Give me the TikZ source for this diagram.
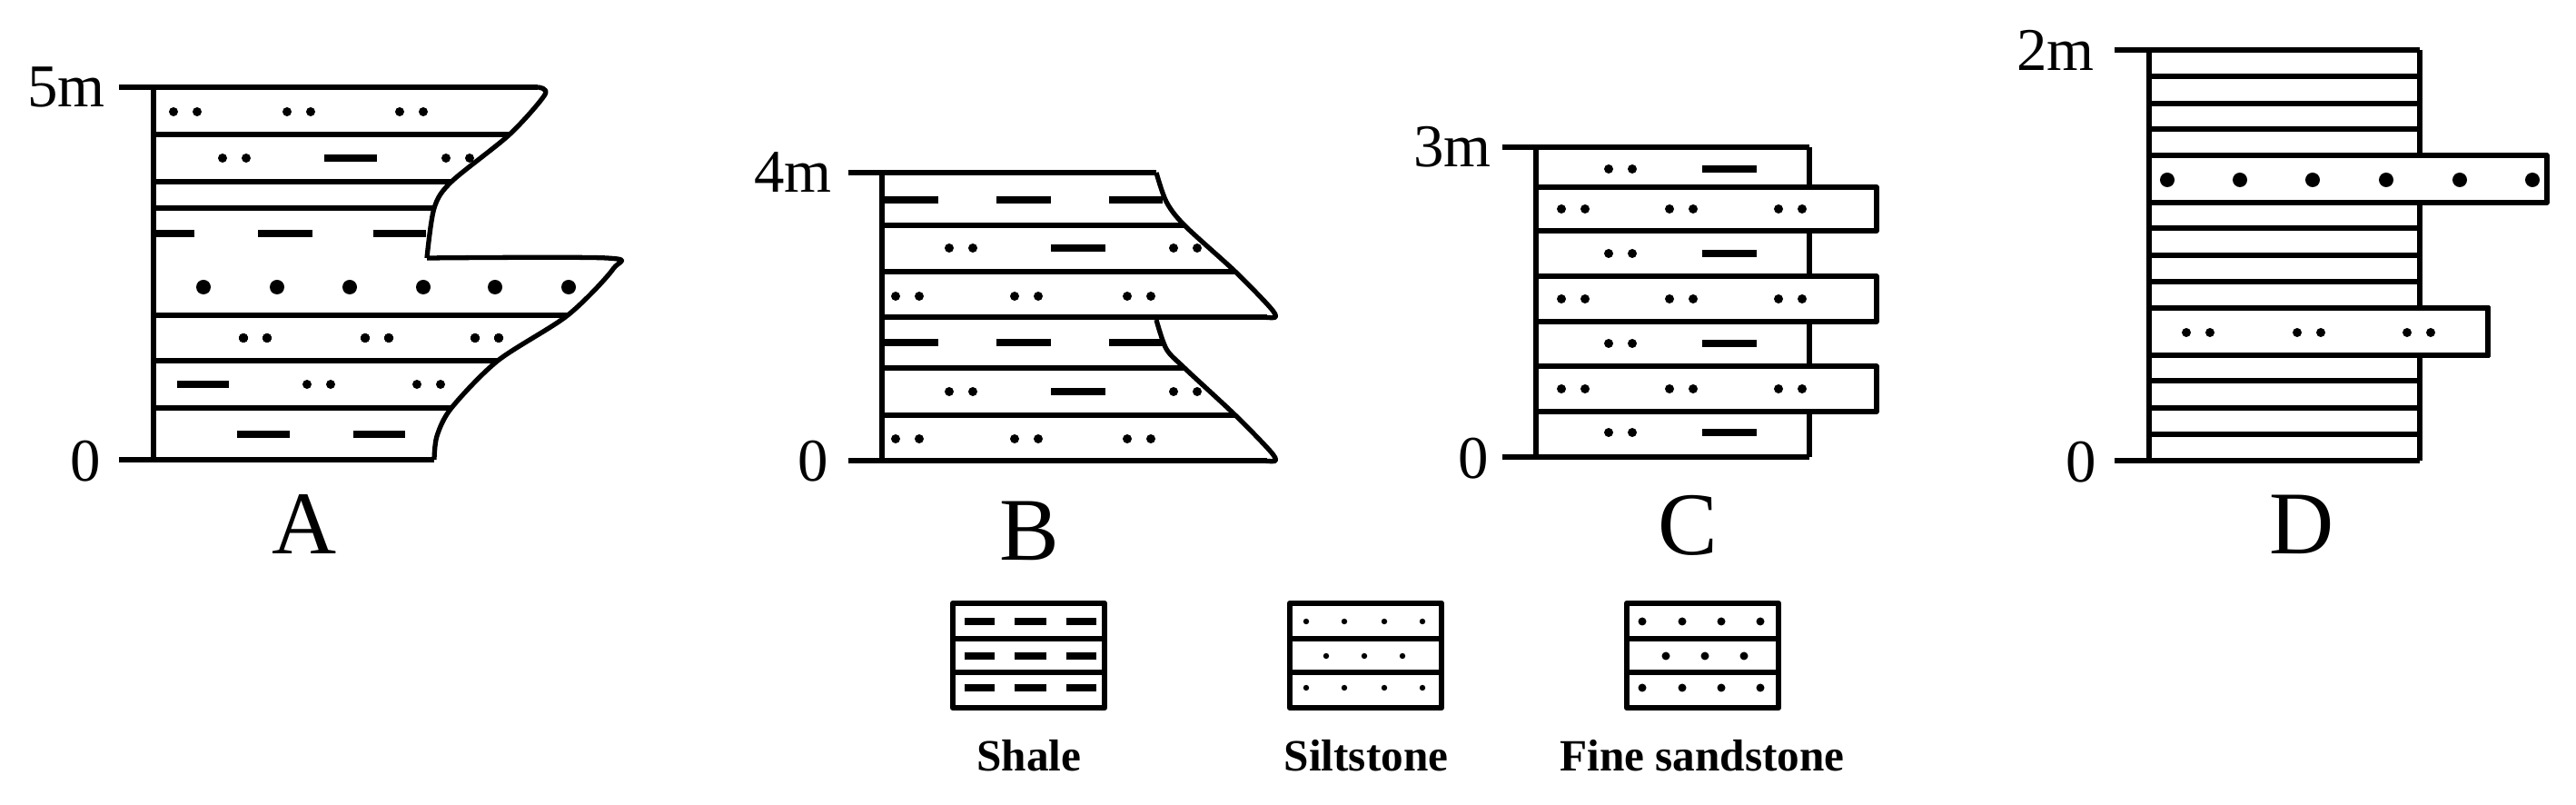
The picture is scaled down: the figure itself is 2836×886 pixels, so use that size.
\documentclass[tikz,border=0pt]{standalone}
\usepackage{fontspec}
\setmainfont{Liberation Serif}
\begin{document}
\begin{tikzpicture}[x=0.01cm,y=-0.01cm,line width=1.5pt,line join=round,
  lab/.style={inner sep=0pt,font=\fontsize{19pt}{19pt}\selectfont},
  col/.style={inner sep=0pt,font=\fontsize{28pt}{28pt}\selectfont},
  leg/.style={inner sep=0pt,font=\bfseries\fontsize{14pt}{14pt}\selectfont},
  dsh/.style={line width=2pt}]
\useasboundingbox (0,0) rectangle (2836,886);
\newcommand\dpair[2]{\fill (#1,#2) circle (5); \fill (#1+26,#2) circle (5);}
\newcommand\bdot[2]{\fill (#1,#2) circle (8);}
% ---------- A ----------
\draw (131,96) -- (592,96);
\draw plot[smooth,tension=0.5] coordinates {(592,96) (600,104) (561,148) (497,200) (478,229) (470,284)};
\draw (131,506) -- (478,506);
\draw plot[smooth,tension=0.5] coordinates {(470,284) (668,284) (675,296) (625,347) (548,397) (497,449) (481,480) (478,506)};
\draw (169,96) -- (169,506);
\foreach \y/\x in {148/561,200/497,229/478,347/625,397/548,449/497} \draw (169,\y) -- (\x,\y);
\dpair{191}{123}\dpair{316}{123}\dpair{440}{123}
\dpair{245}{174}\draw[dsh] (357,174)--(415,174);\dpair{491}{174}
\draw[dsh] (172,257)--(214,257) (284,257)--(344,257) (411,257)--(469,257);
\foreach \x in {224,305,385,466,545,626} \bdot{\x}{316}
\dpair{268}{372}\dpair{402}{372}\dpair{523}{372}
\draw[dsh] (195,423)--(252,423);\dpair{338}{423}\dpair{459}{423}
\draw[dsh] (261,478)--(319,478) (389,478)--(446,478);
\node[lab] (a5) at (73,96) {5m};
\node[lab] (a0) at (94,508) {0};
\node[col] (A) at (335,577) {A};
% ---------- B ----------
\draw (934,190) -- (1273,190);
\draw plot[smooth,tension=0.5] coordinates {(1273,190) (1284,222) (1304,248) (1360,299) (1398,338) (1404,349) (1390,349)};
\draw (971,349) -- (1395,349);
\draw plot[smooth,tension=0.5] coordinates {(1273,352) (1284,384) (1304,405) (1360,457) (1398,496) (1404,507) (1390,507)};
\draw (934,507) -- (1395,507);
\draw (971,190) -- (971,507);
\foreach \y/\x in {248/1304,299/1360,405/1304,457/1360} \draw (971,\y) -- (\x,\y);
\draw[dsh] (974,220)--(1033,220) (1097,220)--(1157,220) (1221,220)--(1280,220);
\dpair{1045}{273}\draw[dsh] (1157,273)--(1217,273);\dpair{1292}{273}
\dpair{986}{326}\dpair{1117}{326}\dpair{1241}{326}
\draw[dsh] (974,377)--(1033,377) (1097,377)--(1157,377) (1221,377)--(1282,377);
\dpair{1045}{431}\draw[dsh] (1157,431)--(1217,431);\dpair{1292}{431}
\dpair{986}{483}\dpair{1117}{483}\dpair{1241}{483}
\node[lab] (b4) at (873,190) {4m};
\node[lab] (b0) at (895,508) {0};
\node[col] (B) at (1133,584) {B};
% ---------- C ----------
\draw (1654,162) -- (1992,162);
\draw (1654,503) -- (1992,503);
\draw (1691,162) -- (1691,503);
\foreach \t/\b in {162/206,254/304,354/403,453/503} \draw (1992,\t) -- (1992,\b);
\foreach \t/\b in {206/254,304/354,403/453} {\draw (1691,\t) rectangle (2066,\b);
  \dpair{1719}{\t/2+\b/2}\dpair{1838}{\t/2+\b/2}\dpair{1958}{\t/2+\b/2}}
\foreach \y in {186,279,378,476} {\dpair{1771}{\y}\draw[dsh] (1874,\y)--(1934,\y);}
\node[lab] (c3) at (1599,162) {3m};
\node[lab] (c0) at (1622,505) {0};
\node[col] (C) at (1858,578) {C};
% ---------- D ----------
\draw (2328,55) -- (2664,55);
\draw (2328,507) -- (2664,507);
\draw (2366,55) -- (2366,507);
\draw (2664,55) -- (2664,171) (2664,223) -- (2664,339) (2664,391) -- (2664,507);
\foreach \y in {84,114,142,251,281,310,419,449,478} \draw (2366,\y) -- (2664,\y);
\draw (2366,171) rectangle (2804,223);
\foreach \x in {2386,2466,2546,2627,2708,2788} \bdot{\x}{198}
\draw (2366,339) rectangle (2739,391);
\dpair{2407}{366}\dpair{2529}{366}\dpair{2650}{366}
\node[lab] (d2) at (2263,55) {2m};
\node[lab] (d0) at (2291,509) {0};
\node[col] (D) at (2534,577) {D};
% ---------- legend ----------
\foreach \x in {1049,1420,1791} {\draw[line width=1.8pt] (\x,664) rectangle (\x+167,779);
  \draw[line width=1.8pt] (\x,703) -- (\x+167,703) (\x,740) -- (\x+167,740);}
\foreach \y in {684,722,757} \draw[line width=2.3pt] (1062,\y)--(1095,\y) (1117,\y)--(1152,\y) (1174,\y)--(1207,\y);
\foreach \x in {1438,1480,1524,1566} {\fill (\x,684) circle (3.2); \fill (\x,757) circle (3.2);}
\foreach \x in {1460,1502,1544} \fill (\x,722) circle (3.2);
\foreach \x in {1808,1852,1895,1938} {\fill (\x,684) circle (4.5); \fill (\x,757) circle (4.5);}
\foreach \x in {1834,1877,1920} \fill (\x,722) circle (4.5);
\node[leg] (l1) at (1133,832) {Shale};
\node[leg] (l2) at (1504,832) {Siltstone};
\node[leg] (l3) at (1874,832) {Fine sandstone};
\end{tikzpicture}
\end{document}
